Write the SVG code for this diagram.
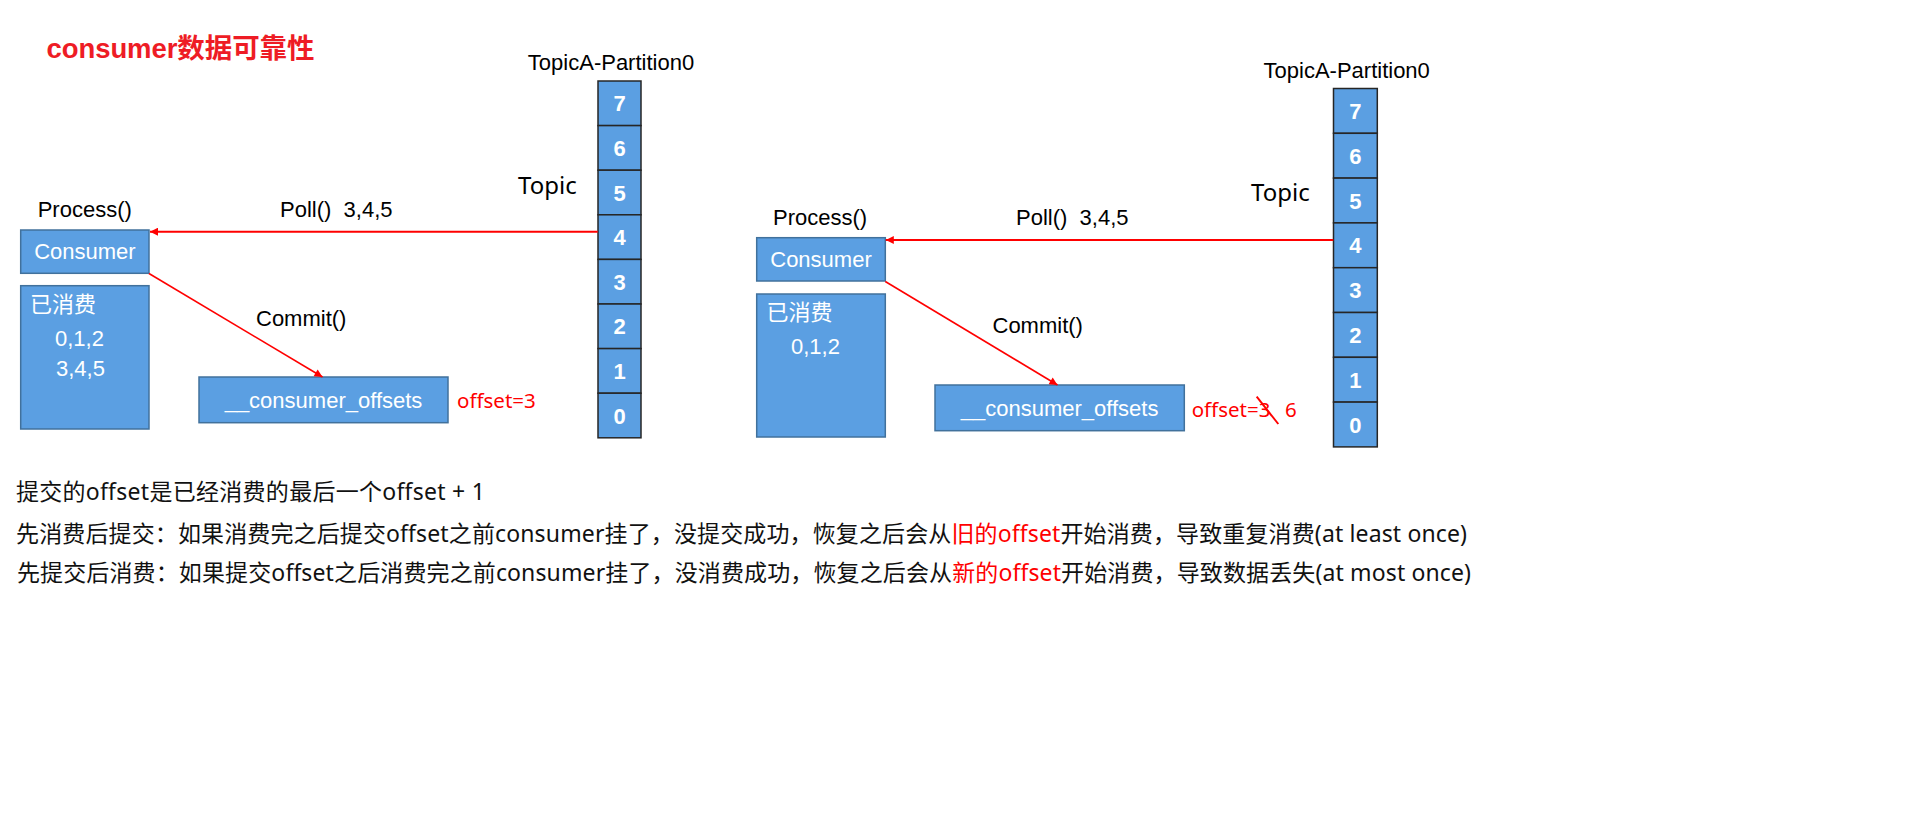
<svg xmlns="http://www.w3.org/2000/svg" width="1914" height="817" viewBox="0 0 1914 817">
<style>
.box{fill:#5B9FE2;stroke:#41719C;stroke-width:1.5}
.cell{fill:#5B9FE2;stroke:#262626;stroke-width:1.5}
.lbl{font-family:"Liberation Sans",Arial,sans-serif;font-size:22px;fill:#000}
.wl{font-family:"Liberation Sans",Arial,"Noto Sans CJK SC",sans-serif;font-size:22px;fill:#fff}
.num{font-family:"Liberation Sans",Arial,sans-serif;font-weight:bold;font-size:22px;fill:#fff;text-anchor:middle}
.ya{font-family:"Noto Sans","Noto Sans CJK SC",sans-serif}
.red{fill:#FF0000}
.conn{stroke:#FF0000;fill:none}
.body{font-family:"Noto Sans","Noto Sans CJK SC",sans-serif;font-size:23px;fill:#111}
</style>
<defs>
<marker id="ah" viewBox="0 0 10 10" refX="10" refY="5" markerWidth="9" markerHeight="8" markerUnits="userSpaceOnUse" orient="auto"><path d="M0,0 L10,5 L0,10 z" fill="#FF0000"/></marker>
</defs>

<g id="title"><text x="46.5" y="57.5" textLength="268" style="font-family:'Liberation Sans','Noto Sans CJK SC',sans-serif;font-weight:bold;font-size:27.5px;fill:#EE1C25">consumer数据可靠性</text></g>

<!-- LEFT DIAGRAM -->
<g id="partition-left">
<text class="lbl" x="611" y="70" text-anchor="middle">TopicA-Partition0</text>
<rect class="cell" x="598" y="81" width="43" height="44.6"/>
<rect class="cell" x="598" y="125.6" width="43" height="44.6"/>
<rect class="cell" x="598" y="170.2" width="43" height="44.6"/>
<rect class="cell" x="598" y="214.8" width="43" height="44.6"/>
<rect class="cell" x="598" y="259.4" width="43" height="44.6"/>
<rect class="cell" x="598" y="304" width="43" height="44.6"/>
<rect class="cell" x="598" y="348.6" width="43" height="44.6"/>
<rect class="cell" x="598" y="393.2" width="43" height="44.6"/>
<text class="num" x="619.5" y="111.3">7</text>
<text class="num" x="619.5" y="155.9">6</text>
<text class="num" x="619.5" y="200.5">5</text>
<text class="num" x="619.5" y="245.1">4</text>
<text class="num" x="619.5" y="289.7">3</text>
<text class="num" x="619.5" y="334.3">2</text>
<text class="num" x="619.5" y="378.9">1</text>
<text class="num" x="619.5" y="423.5">0</text>
<text class="ya" x="518" y="194" style="font-size:24px;fill:#000">Topic</text>
</g>
<g id="consumer-left">
<text class="lbl" x="37.7" y="216.7">Process()</text>
<rect class="box" x="20.7" y="230" width="128.3" height="43.3"/>
<text class="wl" x="84.9" y="259" text-anchor="middle">Consumer</text>
</g>
<g id="consumed-left">
<rect class="box" x="20.7" y="285.7" width="128.3" height="143.3"/>
<text class="wl" x="30" y="312">已消费</text>
<text class="wl" x="55" y="346">0,1,2</text>
<text class="wl" x="56" y="375.5">3,4,5</text>
</g>
<g id="offsets-left">
<rect class="box" x="199" y="377" width="249" height="45.7"/>
<text class="wl" x="323.5" y="408" text-anchor="middle">__consumer_offsets</text>
<text class="ya red" x="457" y="408" style="font-size:20.5px">offset=3</text>
</g>

<!-- RIGHT DIAGRAM -->
<g id="partition-right">
<text class="lbl" x="1346.7" y="77.5" text-anchor="middle">TopicA-Partition0</text>
<rect class="cell" x="1333.5" y="88.5" width="43.8" height="44.8"/>
<rect class="cell" x="1333.5" y="133.3" width="43.8" height="44.8"/>
<rect class="cell" x="1333.5" y="178.1" width="43.8" height="44.8"/>
<rect class="cell" x="1333.5" y="222.9" width="43.8" height="44.8"/>
<rect class="cell" x="1333.5" y="267.7" width="43.8" height="44.8"/>
<rect class="cell" x="1333.5" y="312.5" width="43.8" height="44.8"/>
<rect class="cell" x="1333.5" y="357.3" width="43.8" height="44.8"/>
<rect class="cell" x="1333.5" y="402.1" width="43.8" height="44.8"/>
<text class="num" x="1355.4" y="118.9">7</text>
<text class="num" x="1355.4" y="163.7">6</text>
<text class="num" x="1355.4" y="208.5">5</text>
<text class="num" x="1355.4" y="253.3">4</text>
<text class="num" x="1355.4" y="298.1">3</text>
<text class="num" x="1355.4" y="342.9">2</text>
<text class="num" x="1355.4" y="387.7">1</text>
<text class="num" x="1355.4" y="432.5">0</text>
<text class="ya" x="1251" y="200.5" style="font-size:24px;fill:#000">Topic</text>
</g>
<g id="consumer-right">
<text class="lbl" x="773" y="225">Process()</text>
<rect class="box" x="756.7" y="237.7" width="128.6" height="43.3"/>
<text class="wl" x="821" y="266.7" text-anchor="middle">Consumer</text>
</g>
<g id="consumed-right">
<rect class="box" x="756.7" y="294" width="128.6" height="143"/>
<text class="wl" x="766.5" y="320">已消费</text>
<text class="wl" x="791" y="354">0,1,2</text>
</g>
<g id="offsets-right">
<rect class="box" x="935" y="385" width="249.3" height="45.7"/>
<text class="wl" x="1059.6" y="416" text-anchor="middle">__consumer_offsets</text>
<text class="ya red" x="1191.7" y="417" style="font-size:20.5px">offset=3<tspan x="1285">6</tspan></text>
<line x1="1256.7" y1="396.7" x2="1278.3" y2="424" stroke="#FF0000" stroke-width="2"/>
</g>

<g id="connectors">
<line class="conn" x1="597.7" y1="231.7" x2="150" y2="231.7" stroke-width="2" marker-end="url(#ah)"/>
<text class="lbl" x="280" y="216.7" xml:space="preserve">Poll()  3,4,5</text>
<line class="conn" x1="149" y1="273.5" x2="322.5" y2="377" stroke-width="1.6" marker-end="url(#ah)"/>
<text class="lbl" x="256" y="325.5">Commit()</text>
<line class="conn" x1="1333.3" y1="240" x2="885.8" y2="240" stroke-width="2" marker-end="url(#ah)"/>
<text class="lbl" x="1016" y="225" xml:space="preserve">Poll()  3,4,5</text>
<line class="conn" x1="885.3" y1="281.5" x2="1057.5" y2="385" stroke-width="1.6" marker-end="url(#ah)"/>
<text class="lbl" x="992.5" y="333">Commit()</text>
</g>

<g id="notes">
<text class="body" x="16" y="500" textLength="469">提交的offset是已经消费的最后一个offset + 1</text>
<text class="body" x="16" y="541.5" textLength="1451">先消费后提交：如果消费完之后提交offset之前consumer挂了，没提交成功，恢复之后会从<tspan class="red">旧的offset</tspan>开始消费，导致重复消费(at least once)</text>
<text class="body" x="17" y="580.5" textLength="1454">先提交后消费：如果提交offset之后消费完之前consumer挂了，没消费成功，恢复之后会从<tspan class="red">新的offset</tspan>开始消费，导致数据丢失(at most once)</text>
</g>
</svg>
